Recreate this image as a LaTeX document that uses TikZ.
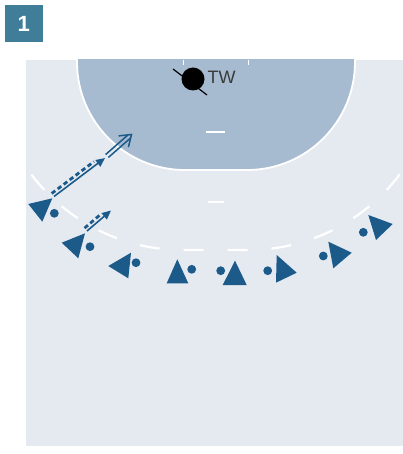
\documentclass[tikz,border=0pt]{standalone}
\usepackage{fontspec}
\setmainfont{Liberation Sans}
\usetikzlibrary{arrows.meta,calc}
\definecolor{courtbg}{HTML}{E5EAF1}
\definecolor{goalbg}{HTML}{A6BBD0}
\definecolor{plblue}{HTML}{1C5A8A}
\definecolor{badgecol}{HTML}{3F7D99}
\definecolor{twgray}{HTML}{3A3A3A}
\begin{document}
\begin{tikzpicture}[x=1pt,y=1pt,yscale=-1,
  player/.style={fill=plblue},
  ball/.style={circle,fill=plblue,minimum size=8.8pt,inner sep=0pt},
  whiteline/.style={white,line width=1.8pt},
  goalline/.style={white,line width=1.8pt},
  nineline/.style={white,line width=2.2pt,dash pattern=on 20pt off 24pt,dash phase=32pt},
  runline/.style={plblue,line width=1.6pt,-{Triangle[length=9pt,width=8pt]}},
  dribble/.style={plblue,line width=2.8pt,dash pattern=on 4.5pt off 3pt},
  shotline/.style={plblue,line width=1.5pt}]
\useasboundingbox (0,0) rectangle (403,454);
\fill[white] (0,0) rectangle (403,454);
% badge
\node[fill=badgecol,minimum width=38.5pt,minimum height=37.5pt,inner sep=0pt,text=white,
  font=\fontsize{22}{22}\selectfont\bfseries] (badge) at (23.75,23.75) {1};
% court
\fill[courtbg] (26,60) rectangle (403,446);
\begin{scope}
\clip (26,60) rectangle (403,446);
\fill[goalbg] (77,55) -- (77,62) arc[start angle=180,end angle=90,radius=108pt]
  -- (247,170) arc[start angle=90,end angle=0,radius=108pt] -- (355,55) -- cycle;
\draw[goalline] (77,58) -- (77,62) arc[start angle=180,end angle=90,radius=108pt]
  -- (247,170) arc[start angle=90,end angle=0,radius=108pt] -- (355,58);
\draw[nineline] (215.5,250) -- (183,250) arc[start angle=90,end angle=180,radius=190pt];
\draw[nineline] (215.5,250) -- (248,250) arc[start angle=90,end angle=0,radius=190pt];
\end{scope}
\draw[whiteline] (207.5,202) -- (223.5,202);
\draw[whiteline] (206,132) -- (225,132);
\draw[white,line width=1pt] (183,60) -- (183,65);
\draw[white,line width=1pt] (248,60) -- (248,65);
% goalkeeper
\draw[black,line width=1.2pt] (173,69) -- (207,95);
\node[circle,fill=black,minimum size=23pt,inner sep=0pt] (tw) at (193,79) {};
\node[anchor=base west,inner sep=0pt,text=twgray,font=\fontsize{18}{18}\selectfont] (twlabel) at (207.5,83.5) {TW};
% players
\fill[player] (28.3,204) -- (52.3,198.3) -- (42.3,221.7) -- cycle;
\node[ball] (b1) at (54.3,213.3) {};
\fill[player] (61.7,242.7) -- (85,233.3) -- (78.3,258.3) -- cycle;
\node[ball] (b2) at (90,246.7) {};
\fill[player] (108.3,266) -- (131,252.7) -- (128.3,278.3) -- cycle;
\node[ball] (b3) at (136,262.7) {};
\fill[player] (177.3,259.3) -- (166.7,283.3) -- (188.3,283.3) -- cycle;
\node[ball] (b4) at (191.7,269.3) {};
\fill[player] (235,260.7) -- (222.7,285) -- (246.7,285) -- cycle;
\node[ball] (b5) at (220.7,270.7) {};
\fill[player] (276.7,255) -- (296.7,272.7) -- (276,282.7) -- cycle;
\node[ball] (b6) at (267.7,270.7) {};
\fill[player] (328.3,241.7) -- (351.7,252.7) -- (333.3,268.3) -- cycle;
\node[ball] (b7) at (323.3,256) {};
\fill[player] (368.3,215) -- (392.7,224) -- (376,240) -- cycle;
\node[ball] (b8) at (363.3,232.3) {};
% arrows
\coordinate (a1s) at (54,196.5);
\coordinate (a1e) at (105,158);
\coordinate (a2s) at (107,156);
\coordinate (a2e) at (131.5,134.5);
\coordinate (a3s) at (87,231);
\coordinate (a3e) at (111,210.5);
\draw[runline] (a1s) -- (a1e);
\draw[dribble,shorten >=11pt] ($(a1s)!3.8pt!-90:(a1e)$) -- ($(a1e)!3.8pt!90:(a1s)$);
\draw[shotline,shorten >=3pt] ($(a2s)!2pt!90:(a2e)$) -- ($(a2e)!2pt!-90:(a2s)$);
\draw[shotline,shorten >=3pt] ($(a2s)!2pt!-90:(a2e)$) -- ($(a2e)!2pt!90:(a2s)$);
\draw[shotline,line join=miter] ($(a2e)!13pt!35:(a2s)$) -- (a2e) -- ($(a2e)!13pt!-35:(a2s)$);
\draw[runline] (a3s) -- (a3e);
\draw[dribble,shorten >=10pt] ($(a3s)!3.8pt!-90:(a3e)$) -- ($(a3e)!3.8pt!90:(a3s)$);
\end{tikzpicture}
\end{document}
